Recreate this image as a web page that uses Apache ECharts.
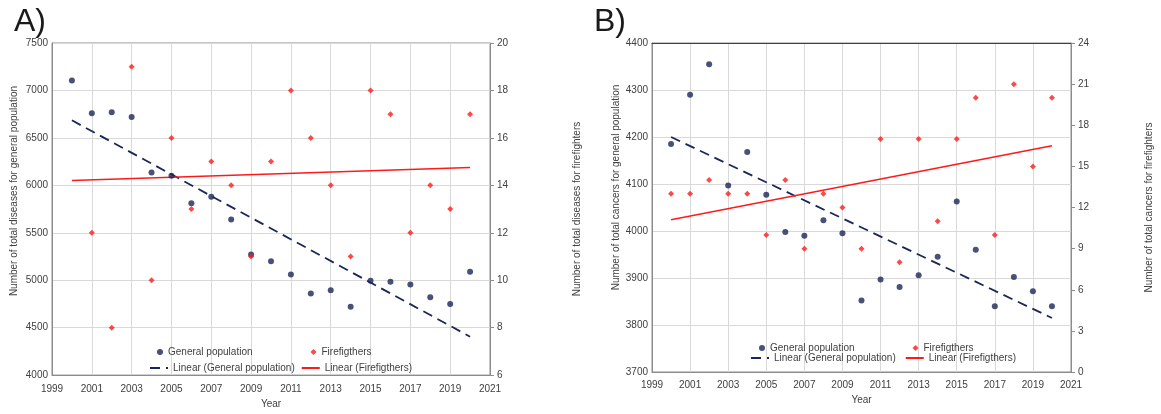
<!DOCTYPE html>
<html><head><meta charset="utf-8">
<script src="https://cdn.jsdelivr.net/npm/echarts@6/dist/echarts.min.js"></script>
<style>html,body{margin:0;padding:0;background:#fff}#c{width:1161px;height:414px}</style>
</head><body><div id="c"></div>
<script>
// ---------- data ----------
const years = [2000,2001,2002,2003,2004,2005,2006,2007,2008,2009,2010,2011,2012,2013,2014,2015,2016,2017,2018,2019,2020];
// Panel A: total diseases
const genA  = [7105,6760,6770,6720,6135,6100,5810,5880,5640,5270,5200,5060,4860,4895,4720,4995,4985,4955,4820,4750,5090];
const fireYearsA = [2001,2002,2003,2004,2005,2006,2007,2008,2009,2010,2011,2012,2013,2014,2015,2016,2017,2018,2019,2020];
const fireA = [12,8,19,10,16,13,15,14,11,15,18,16,14,11,18,17,12,14,13,17];
// Panel B: total cancers
const genB  = [4185,4290,4355,4097,4168,4077,3998,3990,4023,3995,3852,3897,3881,3906,3945,4063,3960,3840,3902,3872,3840];
const fireB = [13,13,14,13,13,10,14,9,13,12,9,17,8,17,11,17,20,10,21,15,20];
// Linear trend lines (end points)
const trendYears = [2000, 2020];
const genTrendA  = [6685, 4405];
const fireTrendA = [14.2, 14.75];
const genTrendB  = [4200, 3815];
const fireTrendB = [11.1, 16.5];
// Axis ranges
const xRange = {min:1999, max:2021, interval:2};
const yLeftA  = {min:4000, max:7500, interval:500};
const yRightA = {min:6, max:20, interval:2};
const yLeftB  = {min:3700, max:4400, interval:100};
const yRightB = {min:0, max:24, interval:3};
// Labels
const panelTitles = ['A)', 'B)'];
const nameGen = 'General population';
const nameFire = 'Firefigthers';
const nameGenLin = 'Linear (General population)';
const nameFireLin = 'Linear (Firefigthers)';
const yNamesA = ['Number of total diseases for general population', 'Number of total diseases for firefighters'];
const yNamesB = ['Number of total cancers for general population', 'Number of total cancers for firefighters'];
const xName = 'Year';

// ---------- styles ----------
const font = "'Liberation Sans', Arial, sans-serif";
const txt = {color:'#404040', fontSize:10, fontFamily:font};
const navy = '#1b2658';
const red = '#ff1a1a';
const axisGray = '#8c8c8c';
const gridGray = '#d9d9d9';
const plain = v => String(v);

const pair = (xs, ys) => xs.map((x,i)=>[x, ys[i]]);

function xAxisFor(gi, gap, margin){
  return {gridIndex:gi, type:'value', ...xRange,
    axisLine:{show:true, lineStyle:{color:axisGray}}, axisTick:{show:false},
    axisLabel:{...txt, margin:margin, showMinLabel:true, showMaxLabel:true, formatter:plain},
    splitLine:{show:true, lineStyle:{color:gridGray}},
    name:xName, nameLocation:'middle', nameGap:gap, nameTextStyle:{...txt}};
}
function yLeft(gi, r, name, gap, shift){
  return {gridIndex:gi, type:'value', position:'left', ...r,
    axisLine:{show:true, lineStyle:{color:axisGray}}, axisTick:{show:false},
    axisLabel:{...txt, margin:4, formatter:plain},
    splitLine:{show:true, lineStyle:{color:gridGray}},
    name:name, nameLocation:'middle', nameGap:gap,
    nameTextStyle:{...txt, padding:[0,0,0,shift]}};
}
function yRight(gi, r, name, gap, shift){
  return {gridIndex:gi, type:'value', position:'right', ...r,
    axisLine:{show:true, lineStyle:{color:axisGray}},
    axisTick:{show:true, length:4, lineStyle:{color:axisGray}},
    axisLabel:{...txt, margin:7, formatter:plain},
    splitLine:{show:false},
    name:name, nameLocation:'middle', nameGap:gap,
    nameTextStyle:{...txt, padding:[0,0,0,shift]}};
}
const hideSym = {opacity:0, color:'transparent', borderWidth:0};
function legendRow(left, top, items, itemWidth, itemHeight, gap, isLine){
  return {left:left, top:top, orient:'horizontal', itemWidth:itemWidth, itemHeight:itemHeight, itemGap:gap,
    data:items.map(n => isLine ? {name:n, itemStyle:hideSym} : {name:n}),
    textStyle:{...txt, fontSize:10, padding:0},
    selectedMode:false, padding:0};
}

const option = {
  animation:false,
  backgroundColor:'#ffffff',
  title:[
    {text:panelTitles[0], left:9, top:1, textStyle:{fontFamily:font, fontSize:32, fontWeight:'normal', color:'#1a1a1a'}},
    {text:panelTitles[1], left:589, top:1, textStyle:{fontFamily:font, fontSize:32, fontWeight:'normal', color:'#1a1a1a'}}
  ],
  grid:[
    {left:52, right:671, top:43, bottom:30, show:true, borderColor:axisGray, borderWidth:1, backgroundColor:'transparent'},
    {left:652, right:90, top:43, bottom:42, show:true, borderColor:axisGray, borderWidth:1, backgroundColor:'transparent'}
  ],
  xAxis:[
    xAxisFor(0, 20, 9),
    xAxisFor(1, 18, 8),
    {gridIndex:1, type:'value', position:'top', ...xRange, axisLine:{show:true, lineStyle:{color:'#404040'}},
      axisTick:{show:false}, axisLabel:{show:false}, splitLine:{show:false}}
  ],
  yAxis:[
    yLeft(0, yLeftA, yNamesA[0], 33, 36),
    yRight(0, yRightA, yNamesA[1], 82, 0),
    yLeft(1, yLeftB, yNamesB[0], 31, 40),
    yRight(1, yRightB, yNamesB[1], 73, 0)
  ],
  legend:[
    legendRow(157, 347, [nameGen+'A', nameFire+'A'], 6, 6, 58, false),
    legendRow(149, 363, [nameGenLin+'A', nameFireLin+'A'], 18, 7, 6, true),
    legendRow(759, 343, [nameGen+'B', nameFire+'B'], 6, 6, 58, false),
    legendRow(750, 353, [nameGenLin+'B', nameFireLin+'B'], 18, 7, 9, true)
  ],
  series:[
    {name:nameGen+'A', type:'scatter', xAxisIndex:0, yAxisIndex:0, data:pair(years, genA),
      symbol:'circle', symbolSize:6, itemStyle:{color:navy}, z:5},
    {name:nameFire+'A', type:'scatter', xAxisIndex:0, yAxisIndex:1, data:pair(fireYearsA, fireA),
      symbol:'diamond', symbolSize:6, itemStyle:{color:red}, z:5},
    {name:nameGenLin+'A', type:'line', xAxisIndex:0, yAxisIndex:0, data:pair(trendYears, genTrendA),
      showSymbol:false, symbol:'none', lineStyle:{color:navy, width:1.8, type:[10,6]}, itemStyle:{color:navy}, z:4},
    {name:nameFireLin+'A', type:'line', xAxisIndex:0, yAxisIndex:1, data:pair(trendYears, fireTrendA),
      showSymbol:false, symbol:'none', lineStyle:{color:red, width:1.5}, itemStyle:{color:red}, z:4},

    {name:nameGen+'B', type:'scatter', xAxisIndex:1, yAxisIndex:2, data:pair(years, genB),
      symbol:'circle', symbolSize:6, itemStyle:{color:navy}, z:5},
    {name:nameFire+'B', type:'scatter', xAxisIndex:1, yAxisIndex:3, data:pair(years, fireB),
      symbol:'diamond', symbolSize:6, itemStyle:{color:red}, z:5},
    {name:nameGenLin+'B', type:'line', xAxisIndex:1, yAxisIndex:2, data:pair(trendYears, genTrendB),
      showSymbol:false, symbol:'none', lineStyle:{color:navy, width:1.8, type:[10,6]}, itemStyle:{color:navy}, z:4},
    {name:nameFireLin+'B', type:'line', xAxisIndex:1, yAxisIndex:3, data:pair(trendYears, fireTrendB),
      showSymbol:false, symbol:'none', lineStyle:{color:red, width:1.5}, itemStyle:{color:red}, z:4}
  ]
};
// legend labels: strip the panel suffix
option.legend.forEach(l => { l.formatter = n => n.slice(0, -1); });

const chart = echarts.init(document.getElementById('c'), null, {renderer:'canvas'});
chart.setOption(option);
</script>
</body></html>
